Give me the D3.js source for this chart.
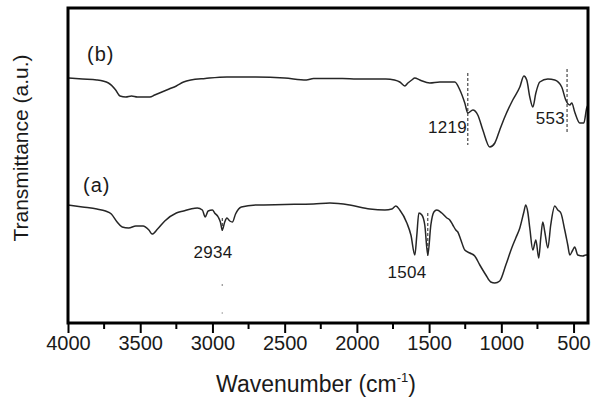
<!DOCTYPE html>
<html><head><meta charset="utf-8">
<script src="https://cdn.jsdelivr.net/npm/d3@7"></script>
<style>body{margin:0;background:#fff}svg{display:block}text{font-family:"Liberation Sans",Arial,sans-serif;fill:#1a1a1a}</style>
</head><body><svg id="c" width="592" height="400"></svg>
<script>
// Wavenumber (cm-1) and transmittance (arbitrary units)
const wnB = [4000,3900,3800,3720,3670,3640,3600,3560,3520,3470,3433,3400,3350,3300,3250,3200,3150,3050,2900,2700,2500,2350,2300,2100,2000,1800,1740,1703,1668,1647,1620,1599,1564,1495,1426,1357,1322,1287,1253,1232,1197,1163,1128,1080,1045,1011,976,921,872,844,824,803,782,761,734,678,630,582,554,526,512,492,457,429,409,400];
const tB  = [245,244,243,240,233,227,226,227,226,226,226,228,231,234,237,241,243,244.5,246,246,245,243,244.5,244.5,244,244,243,241,237,240,243,245,243,240,241,241,241,233,220,210,213,208,193,176,180,193,206,223,236,247,243,226,216,230,241,244,243,236,223,218,220,211,200,200,215,218];
const wnA = [4000,3900,3800,3740,3700,3660,3625,3580,3530,3480,3440,3417,3380,3330,3250,3200,3150,3105,3070,3050,3030,3000,2985,2960,2945,2932,2915,2900,2880,2862,2840,2800,2700,2500,2300,2187,2049,1910,1806,1758,1730,1703,1654,1626,1599,1585,1571,1550,1530,1509,1488,1467,1447,1412,1377,1357,1336,1315,1301,1280,1253,1218,1184,1149,1107,1073,1045,1011,969,928,900,872,844,831,817,803,782,761,741,727,713,699,678,658,630,609,588,561,540,526,505,492,471,436,415,400];
const tA  = [118,116,114,112,109,101,96,95,97,97,93,89,94,102,110,112,114,115,113,106,112,113,110,106,101,93,101,105,102,101,109,116,118,118.5,119,120,118,114,113,114,117,113,100,88,68,88,110,108,98,68,98,111,113,110,105,103,98,93,91,83,73,70,67,58,48,41,40,42,58,75,85,95,111,118,111,95,73,83,65,85,101,91,75,98,117,113,110,93,78,68,73,76,68,67,68,68];
const seriesLabels = ["(b)","(a)"];
const xTicks = [4000,3500,3000,2500,2000,1500,1000,500];
const xMinor = [3750,3250,2750,2250,1750,1250,750];
const markWn = [1232,545,2932,1509];
const markLabels = ["1219","553","2934","1504"];

const svg = d3.select("#c");
const L=68, R=588, T=8, B=323;
const x = d3.scaleLinear().domain([4000,400]).range([L,R]);
const y = d3.scaleLinear().domain([0,315]).range([B,T]);

const line = d3.line().x(d=>x(d[0])).y(d=>y(d[1])).curve(d3.curveMonotoneX);
const dataB = wnB.map((w,i)=>[w,tB[i]]);
const dataA = wnA.map((w,i)=>[w,tA[i]]);
[dataB,dataA].forEach(d=>{
  svg.append("path").datum(d).attr("d",line).attr("fill","none")
    .attr("stroke","#262626").attr("stroke-width",1.5).attr("stroke-linejoin","round");
});

// dashed marker lines
const dash = (w,v0,v1)=>svg.append("line").attr("x1",x(w)).attr("x2",x(w))
  .attr("y1",y(v0)).attr("y2",y(v1)).attr("stroke","#222").attr("stroke-width",1).attr("stroke-dasharray","3,2");
dash(markWn[0],250,178);
dash(markWn[1],254,190);
dash(markWn[2],105,91);
dash(markWn[3],110,66);
svg.append("circle").attr("cx",x(markWn[2])).attr("cy",y(38)).attr("r",0.8).attr("fill","#666");
svg.append("circle").attr("cx",x(markWn[2])).attr("cy",y(10)).attr("r",0.8).attr("fill","#999");

// marker labels
const ann = (i,xx,yy,anchor)=>svg.append("text").attr("x",xx).attr("y",yy)
  .attr("text-anchor",anchor).attr("font-size",17).attr("letter-spacing",0.3).text(markLabels[i]);
ann(0,467,133,"end");
ann(1,565,124,"end");
ann(2,213,258,"middle");
ann(3,407,278,"middle");

// series labels
svg.append("text").attr("x",87).attr("y",61).attr("font-size",20).attr("letter-spacing",1).text(seriesLabels[0]);
svg.append("text").attr("x",83).attr("y",192).attr("font-size",20).attr("letter-spacing",1).text(seriesLabels[1]);

// frame
svg.append("rect").attr("x",L).attr("y",T).attr("width",R-L).attr("height",B-T)
  .attr("fill","none").attr("stroke","#000").attr("stroke-width",3);

// x axis
const ax = svg.append("g").attr("transform",`translate(0,${B})`)
  .call(d3.axisBottom(x).tickValues(xTicks).tickSize(10).tickFormat(d3.format("d")));
ax.select(".domain").remove();
ax.selectAll(".tick line").attr("stroke","#000").attr("stroke-width",2);
ax.selectAll(".tick text").attr("font-size",20).attr("font-family","Liberation Sans, Arial, sans-serif")
  .attr("fill","#1a1a1a").attr("y",13).attr("dy","0.71em");
svg.append("g").selectAll("line").data(xMinor).join("line")
  .attr("x1",d=>x(d)).attr("x2",d=>x(d)).attr("y1",B).attr("y2",B+6)
  .attr("stroke","#000").attr("stroke-width",2);

// axis titles
const xl = svg.append("text").attr("x",316).attr("y",392).attr("text-anchor","middle").attr("font-size",23);
xl.append("tspan").text("Wavenumber (cm");
xl.append("tspan").attr("font-size",13).attr("dy",-10).text("-1");
xl.append("tspan").attr("dy",10).text(")");
svg.append("text").attr("transform","translate(28,148) rotate(-90)").attr("text-anchor","middle")
  .attr("font-size",21).text("Transmittance (a.u.)");
</script></body></html>
